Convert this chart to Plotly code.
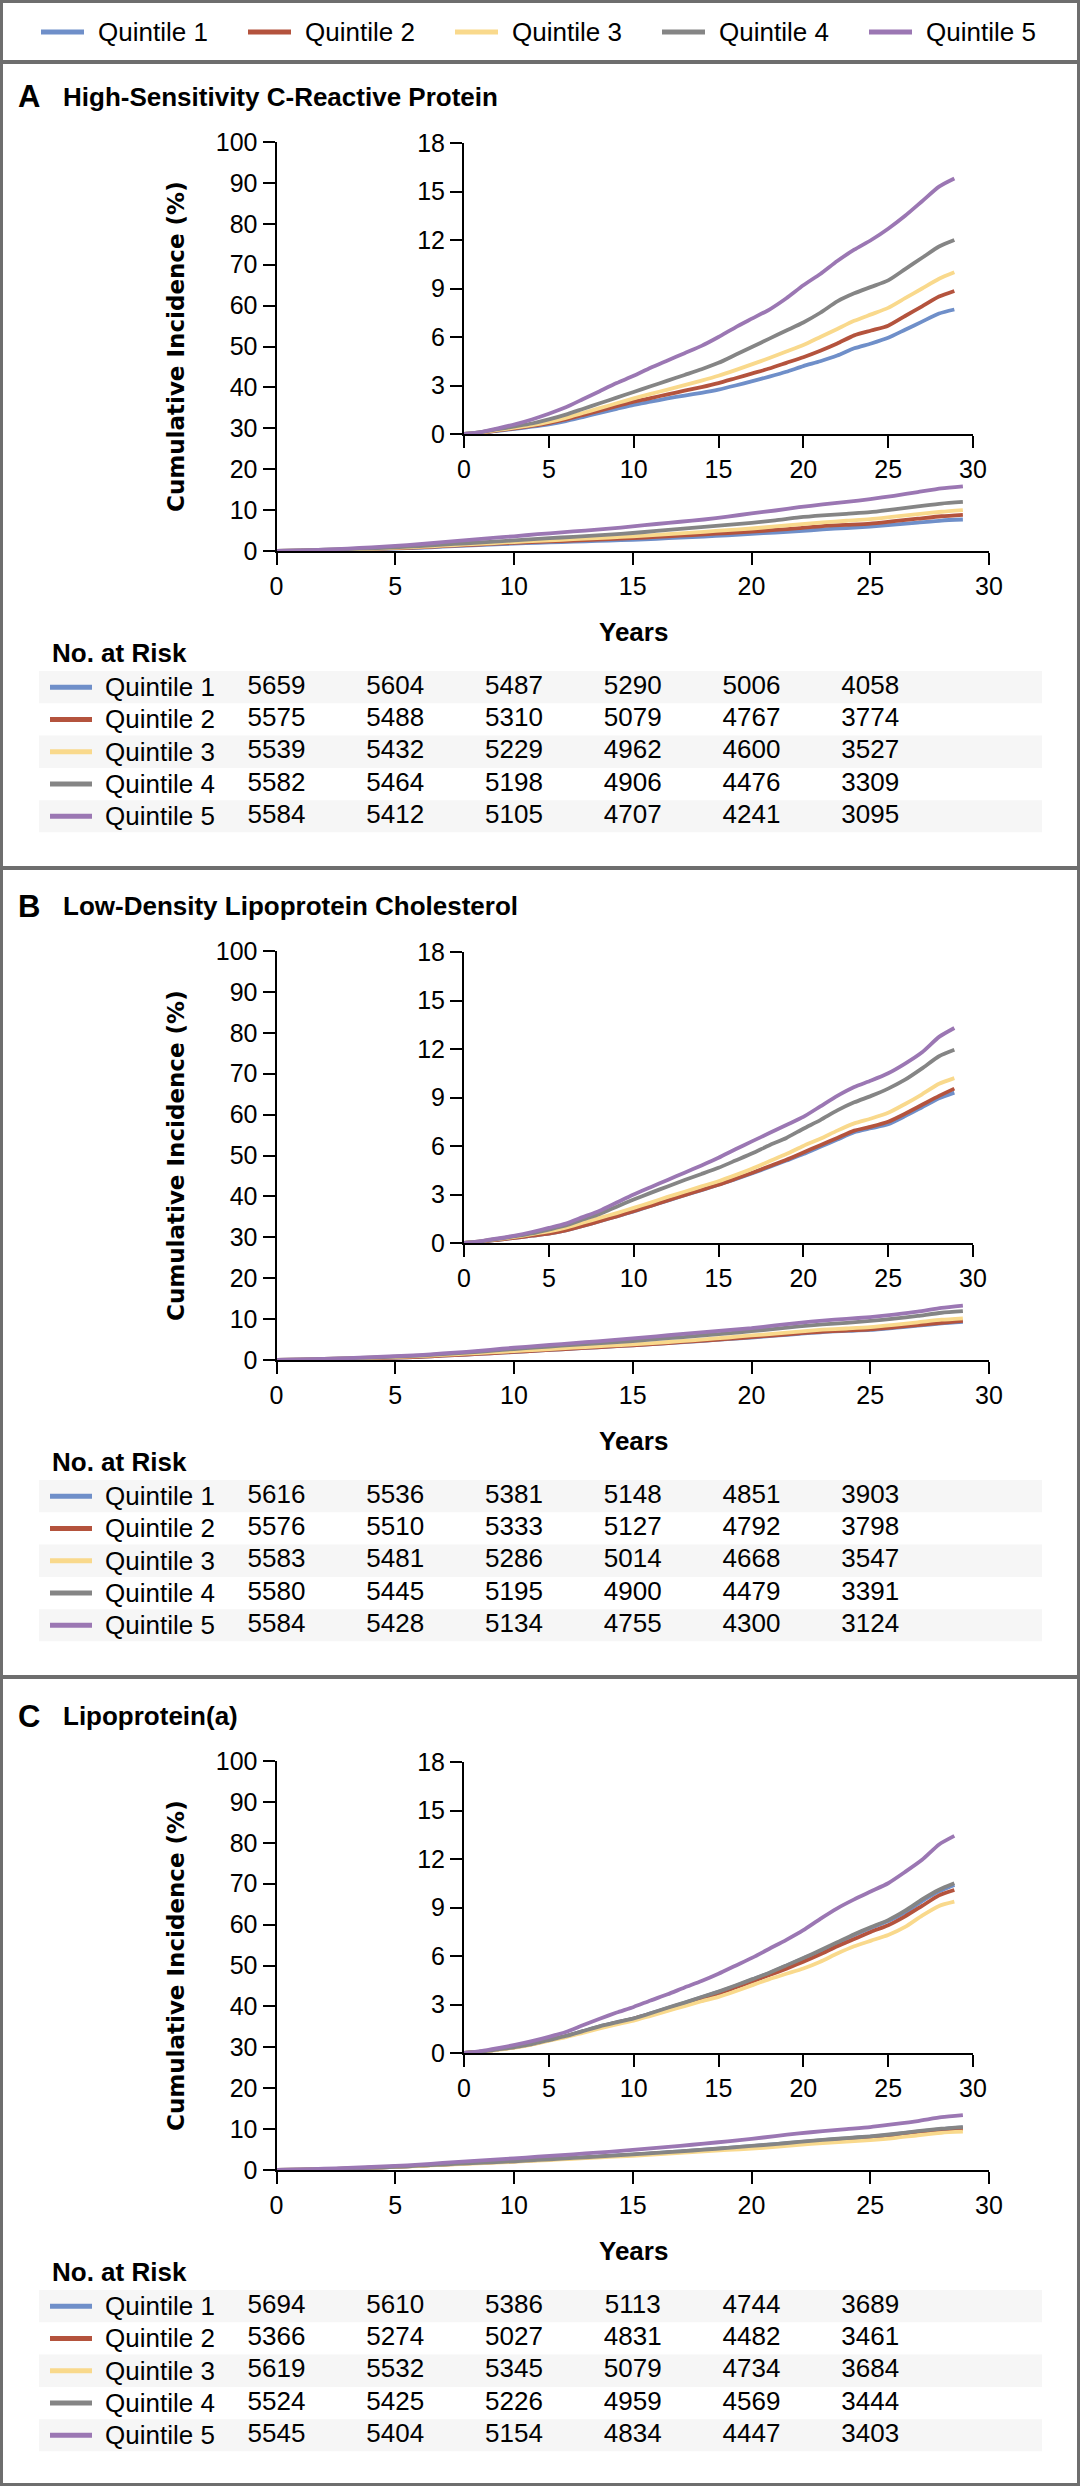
import plotly.graph_objects as go

W, H = 1080, 2486

YEARS = [0, 1, 2, 3, 4, 5, 6, 7, 8, 9, 10, 11, 12, 13, 14, 15, 16, 17, 18, 19,
         20, 21, 22, 23, 24, 25, 26, 27, 28, 28.9]

CRP_Q1 = [0, 0.08, 0.2, 0.32, 0.45, 0.6, 0.8, 1.05, 1.3, 1.55, 1.8, 2.0, 2.2, 2.38, 2.55, 2.75, 3.0, 3.27, 3.55, 3.85, 4.2, 4.5, 4.85, 5.3, 5.6, 5.95, 6.45, 6.95, 7.45, 7.7]
CRP_Q2 = [0, 0.09, 0.22, 0.35, 0.5, 0.68, 0.9, 1.17, 1.45, 1.72, 2.0, 2.22, 2.45, 2.68, 2.9, 3.15, 3.45, 3.75, 4.05, 4.4, 4.75, 5.15, 5.6, 6.1, 6.4, 6.7, 7.3, 7.9, 8.5, 8.85]
CRP_Q3 = [0, 0.1, 0.25, 0.4, 0.55, 0.75, 1.0, 1.3, 1.6, 1.9, 2.2, 2.48, 2.75, 3.02, 3.3, 3.6, 3.95, 4.32, 4.7, 5.1, 5.5, 6.0, 6.5, 7.0, 7.4, 7.8, 8.4, 9.0, 9.6, 10.0]
CRP_Q4 = [0, 0.12, 0.3, 0.47, 0.65, 0.9, 1.2, 1.55, 1.9, 2.25, 2.6, 2.95, 3.3, 3.65, 4.0, 4.4, 4.9, 5.4, 5.9, 6.4, 6.9, 7.5, 8.2, 8.7, 9.1, 9.5, 10.2, 10.9, 11.6, 12.0]
CRP_Q5 = [0, 0.12, 0.35, 0.6, 0.9, 1.25, 1.65, 2.15, 2.65, 3.15, 3.6, 4.1, 4.55, 5.0, 5.45, 6.0, 6.6, 7.15, 7.7, 8.4, 9.2, 9.9, 10.7, 11.4, 12.0, 12.7, 13.5, 14.4, 15.3, 15.8]

LDL_Q1 = [0, 0.08, 0.2, 0.32, 0.45, 0.58, 0.78, 1.05, 1.35, 1.65, 1.95, 2.3, 2.62, 2.95, 3.27, 3.6, 3.95, 4.32, 4.7, 5.1, 5.5, 5.95, 6.4, 6.85, 7.1, 7.35, 7.85, 8.4, 8.95, 9.3]
LDL_Q2 = [0, 0.08, 0.2, 0.32, 0.45, 0.58, 0.78, 1.05, 1.35, 1.65, 1.97, 2.3, 2.63, 2.96, 3.28, 3.6, 3.97, 4.35, 4.75, 5.15, 5.6, 6.05, 6.5, 6.95, 7.2, 7.5, 8.0, 8.55, 9.1, 9.55]
LDL_Q3 = [0, 0.1, 0.24, 0.38, 0.55, 0.72, 0.95, 1.25, 1.55, 1.85, 2.17, 2.5, 2.85, 3.17, 3.5, 3.82, 4.2, 4.6, 5.05, 5.5, 6.0, 6.45, 6.95, 7.4, 7.7, 8.05, 8.6, 9.2, 9.85, 10.2]
LDL_Q4 = [0, 0.1, 0.25, 0.42, 0.6, 0.83, 1.08, 1.45, 1.8, 2.25, 2.69, 3.1, 3.5, 3.9, 4.27, 4.65, 5.1, 5.55, 6.05, 6.5, 7.07, 7.6, 8.2, 8.7, 9.1, 9.55, 10.1, 10.8, 11.55, 11.95]
LDL_Q5 = [0, 0.12, 0.28, 0.46, 0.68, 0.93, 1.2, 1.6, 2.0, 2.5, 3.0, 3.45, 3.9, 4.35, 4.8, 5.27, 5.8, 6.3, 6.8, 7.3, 7.8, 8.45, 9.1, 9.65, 10.05, 10.5, 11.1, 11.8, 12.75, 13.3]

LPA_Q1 = [0, 0.08, 0.22, 0.36, 0.55, 0.8, 1.05, 1.35, 1.65, 1.9, 2.13, 2.45, 2.78, 3.1, 3.45, 3.78, 4.15, 4.55, 4.95, 5.4, 5.85, 6.3, 6.8, 7.3, 7.75, 8.16, 8.7, 9.4, 10.0, 10.4]
LPA_Q2 = [0, 0.08, 0.22, 0.36, 0.55, 0.8, 1.03, 1.32, 1.62, 1.88, 2.12, 2.42, 2.74, 3.05, 3.37, 3.68, 4.05, 4.43, 4.82, 5.22, 5.64, 6.1, 6.6, 7.05, 7.5, 7.9, 8.45, 9.1, 9.75, 10.08]
LPA_Q3 = [0, 0.07, 0.2, 0.33, 0.52, 0.75, 0.98, 1.25, 1.52, 1.77, 2.0, 2.3, 2.6, 2.9, 3.2, 3.47, 3.82, 4.2, 4.57, 4.9, 5.23, 5.65, 6.15, 6.6, 6.95, 7.3, 7.8, 8.5, 9.1, 9.36]
LPA_Q4 = [0, 0.08, 0.22, 0.36, 0.55, 0.8, 1.05, 1.35, 1.65, 1.9, 2.14, 2.46, 2.8, 3.12, 3.46, 3.8, 4.17, 4.57, 4.97, 5.42, 5.88, 6.35, 6.85, 7.35, 7.8, 8.22, 8.8, 9.5, 10.1, 10.5]
LPA_Q5 = [0, 0.12, 0.3, 0.5, 0.73, 1.0, 1.3, 1.72, 2.12, 2.5, 2.85, 3.25, 3.63, 4.05, 4.45, 4.9, 5.4, 5.9, 6.45, 7.0, 7.6, 8.3, 8.95, 9.5, 10.0, 10.5, 11.2, 11.95, 12.9, 13.43]

RISK_YEARS = [0, 5, 10, 15, 20, 25]
CRP_RISK = [[5659, 5604, 5487, 5290, 5006, 4058],
            [5575, 5488, 5310, 5079, 4767, 3774],
            [5539, 5432, 5229, 4962, 4600, 3527],
            [5582, 5464, 5198, 4906, 4476, 3309],
            [5584, 5412, 5105, 4707, 4241, 3095]]
LDL_RISK = [[5616, 5536, 5381, 5148, 4851, 3903],
            [5576, 5510, 5333, 5127, 4792, 3798],
            [5583, 5481, 5286, 5014, 4668, 3547],
            [5580, 5445, 5195, 4900, 4479, 3391],
            [5584, 5428, 5134, 4755, 4300, 3124]]
LPA_RISK = [[5694, 5610, 5386, 5113, 4744, 3689],
            [5366, 5274, 5027, 4831, 4482, 3461],
            [5619, 5532, 5345, 5079, 4734, 3684],
            [5524, 5425, 5226, 4959, 4569, 3444],
            [5545, 5404, 5154, 4834, 4447, 3403]]

QUINTILES = ["Quintile 1", "Quintile 2", "Quintile 3", "Quintile 4", "Quintile 5"]
COLORS = ["#6f8fc9", "#b4533d", "#f9d98c", "#858585", "#9b77b3"]
PANEL_LETTERS = ["A", "B", "C"]
PANEL_TITLES = ["High-Sensitivity C-Reactive Protein",
                "Low-Density Lipoprotein Cholesterol",
                "Lipoprotein(a)"]
MAIN_YTICKS = list(range(0, 101, 10))
INSET_YTICKS = list(range(0, 19, 3))
XTICKS = list(range(0, 31, 5))

PANELS = [
    (CRP_Q1, CRP_Q2, CRP_Q3, CRP_Q4, CRP_Q5),
    (LDL_Q1, LDL_Q2, LDL_Q3, LDL_Q4, LDL_Q5),
    (LPA_Q1, LPA_Q2, LPA_Q3, LPA_Q4, LPA_Q5),
]
RISKS = [CRP_RISK, LDL_RISK, LPA_RISK]

FONT = "Liberation Sans, Arial, sans-serif"
BOLD_WIDE = "DejaVu Sans, Verdana, sans-serif"
FS = 25


def px(x):
    return x / W


def py(y):
    return 1 - y / H


PANEL_DY = [0, 809, 1619]
SEPARATORS = [62, 868, 1677]

MAIN_X0, MAIN_X1 = 276.5, 989.0
MAIN_Y100, MAIN_Y0 = 142, 551
INS_X0, INS_X1 = 464.0, 973.0
INS_Y18, INS_Y0 = 143, 434
ROW_TOP0, ROW_H = 671, 32.3
PX_PER_YEAR = (MAIN_X1 - MAIN_X0) / 30.0

fig = go.Figure()
layout = dict(
    width=W, height=H,
    margin=dict(l=0, r=0, t=0, b=0, autoexpand=False),
    paper_bgcolor="white", plot_bgcolor="rgba(0,0,0,0)",
    font=dict(family=FONT, size=FS, color="black"),
    showlegend=False,
)
shapes = []
annotations = []

axis_common = dict(showline=True, linecolor="black", linewidth=2, ticks="outside",
                   ticklen=12, tickwidth=2, tickcolor="black", showgrid=False,
                   zeroline=False, tickfont=dict(family=FONT, size=FS, color="black"))

for p in range(3):
    dy = PANEL_DY[p]
    n_main, n_ins, n_tab = 3 * p + 1, 3 * p + 2, 3 * p + 3

    def nm(n, a):
        return a + ("" if n == 1 else str(n))
    layout[nm(n_main, "xaxis")] = dict(domain=[px(MAIN_X0), px(MAIN_X1)], range=[0, 30],
                                       anchor=nm(n_main, "y"), tickvals=XTICKS, **axis_common)
    layout[nm(n_main, "yaxis")] = dict(domain=[py(MAIN_Y0 + dy), py(MAIN_Y100 + dy)], range=[0, 100],
                                       anchor=nm(n_main, "x"), tickvals=MAIN_YTICKS, **axis_common)
    layout[nm(n_ins, "xaxis")] = dict(domain=[px(INS_X0), px(INS_X1)], range=[0, 30],
                                      anchor=nm(n_ins, "y"), tickvals=XTICKS, **axis_common)
    layout[nm(n_ins, "yaxis")] = dict(domain=[py(INS_Y0 + dy), py(INS_Y18 + dy)], range=[0, 18],
                                      anchor=nm(n_ins, "x"), tickvals=INSET_YTICKS, **axis_common)
    top = ROW_TOP0 + dy
    layout[nm(n_tab, "xaxis")] = dict(domain=[0, 1], range=[-MAIN_X0 / PX_PER_YEAR, (W - MAIN_X0) / PX_PER_YEAR],
                                      anchor=nm(n_tab, "y"), visible=False)
    layout[nm(n_tab, "yaxis")] = dict(domain=[py(top + 5 * ROW_H), py(top)], range=[5.5, 0.5],
                                      anchor=nm(n_tab, "x"), visible=False)

    xm, ym = nm(n_main, "x"), nm(n_main, "y")
    xi, yi = nm(n_ins, "x"), nm(n_ins, "y")
    xt, yt = nm(n_tab, "x"), nm(n_tab, "y")

    for q in range(5):
        series = PANELS[p][q]
        fig.add_trace(go.Scatter(x=YEARS, y=series, mode="lines", name=QUINTILES[q],
                                 line=dict(color=COLORS[q], width=3.8, shape="spline", smoothing=0.6),
                                 xaxis=xm, yaxis=ym, legendgroup=QUINTILES[q], hoverinfo="skip"))
    for q in range(5):
        series = PANELS[p][q]
        fig.add_trace(go.Scatter(x=YEARS, y=series, mode="lines", name=QUINTILES[q],
                                 line=dict(color=COLORS[q], width=3.8, shape="spline", smoothing=0.6),
                                 xaxis=xi, yaxis=yi, legendgroup=QUINTILES[q], hoverinfo="skip"))
    for q in range(5):
        shapes.append(dict(type="rect", xref="paper", yref=yt, x0=px(39), x1=px(1042),
                           y0=q + 0.5, y1=q + 1.5, line=dict(width=0),
                           fillcolor="#f6f6f6" if q % 2 == 0 else "rgba(0,0,0,0)", layer="below"))
        shapes.append(dict(type="line", xref="paper", yref=yt, x0=px(50), x1=px(92),
                           y0=q + 1, y1=q + 1, line=dict(color=COLORS[q], width=5)))
        annotations.append(dict(text=QUINTILES[q], xref="paper", yref=yt, x=px(103), y=q + 1,
                                xanchor="left", yanchor="middle", showarrow=False,
                                font=dict(family=FONT, size=FS + 1, color="black")))
        fig.add_trace(go.Scatter(x=RISK_YEARS, y=[q + 1] * len(RISK_YEARS),
                                 text=[str(v) for v in RISKS[p][q]], mode="text",
                                 textposition="middle center",
                                 textfont=dict(family=FONT, size=FS + 1, color="black"),
                                 xaxis=xt, yaxis=yt, hoverinfo="skip", cliponaxis=False))
    annotations.append(dict(text="<b>" + PANEL_LETTERS[p] + "</b>", xref="paper", yref="paper",
                            x=px(16), y=py(97 + dy), xanchor="left", yanchor="middle", showarrow=False,
                            font=dict(family=FONT, size=31, color="black")))
    annotations.append(dict(text="<b>" + PANEL_TITLES[p] + "</b>", xref="paper", yref="paper",
                            x=px(61), y=py(97 + dy), xanchor="left", yanchor="middle", showarrow=False,
                            font=dict(family=FONT, size=26, color="black")))
    annotations.append(dict(text="<b>Cumulative Incidence (%)</b>", xref="paper", yref="paper",
                            x=px(176), y=py(347 + dy), xanchor="center", yanchor="middle",
                            textangle=-90, showarrow=False,
                            font=dict(family=BOLD_WIDE, size=23, color="black")))
    annotations.append(dict(text="<b>Years</b>", xref="paper", yref="paper",
                            x=px(633), y=py(632 + dy), xanchor="center", yanchor="middle",
                            showarrow=False, font=dict(family=FONT, size=26, color="black")))
    annotations.append(dict(text="<b>No. at Risk</b>", xref="paper", yref="paper",
                            x=px(50), y=py(653 + dy), xanchor="left", yanchor="middle",
                            showarrow=False, font=dict(family=FONT, size=26, color="black")))

# top key
LEG_X0, LEG_STEP, LEG_Y = 41, 207, 32
for q in range(5):
    x0 = LEG_X0 + q * LEG_STEP
    shapes.append(dict(type="line", xref="paper", yref="paper", x0=px(x0), x1=px(x0 + 43),
                       y0=py(LEG_Y), y1=py(LEG_Y), line=dict(color=COLORS[q], width=5)))
    annotations.append(dict(text=QUINTILES[q], xref="paper", yref="paper", x=px(x0 + 55), y=py(LEG_Y),
                            xanchor="left", yanchor="middle", showarrow=False,
                            font=dict(family=FONT, size=FS + 1, color="black")))

BORDER = "#6e6e6e"
shapes.append(dict(type="rect", xref="paper", yref="paper", x0=px(1.5), x1=px(1078.5),
                   y0=py(2484.5), y1=py(1.5), line=dict(color=BORDER, width=3)))
for s in SEPARATORS:
    shapes.append(dict(type="line", xref="paper", yref="paper", x0=0, x1=1,
                       y0=py(s), y1=py(s), line=dict(color=BORDER, width=4)))

layout["shapes"] = shapes
layout["annotations"] = annotations
fig.update_layout(**layout)
fig.write_html("out.html", config={"displayModeBar": False},
               post_script="document.body.style.margin='0';document.body.style.padding='0';")
